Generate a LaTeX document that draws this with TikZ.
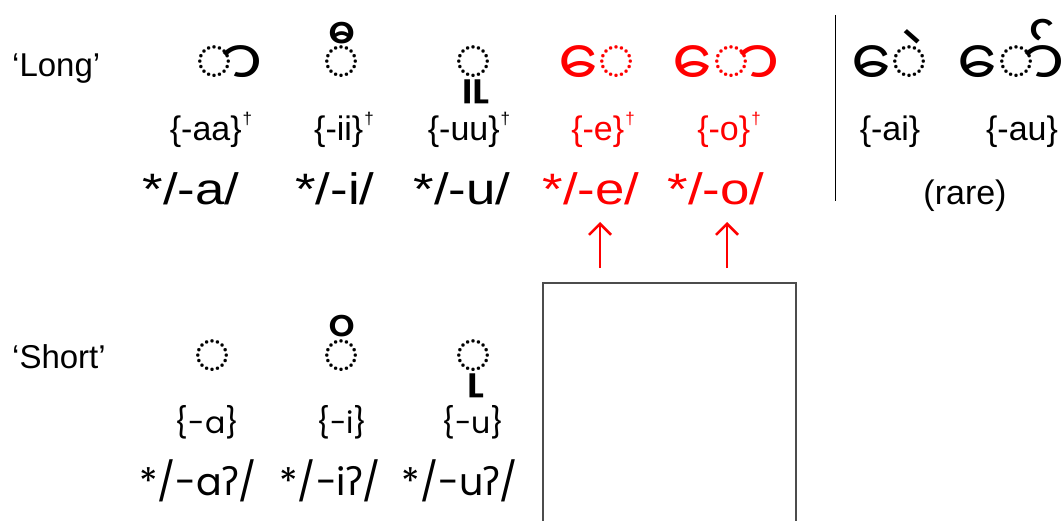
\documentclass[tikz,border=0pt]{standalone}
\usepackage{fontspec}
\setmainfont{Liberation Sans}
\newfontfamily\myfont[Script=Myanmar]{Noto Sans Myanmar UI}
\newfontfamily\shortfont{Poppins}
\newfontfamily\ipafont{Noto Sans}
\usetikzlibrary{arrows.meta}
\tikzset{
  rowlabel/.style={anchor=base west, inner sep=0pt, font=\fontsize{33}{33}\selectfont},
  glyph/.style={anchor=base, inner sep=0pt, font=\myfont\fontsize{64}{64}\selectfont},
  label/.style={anchor=base, inner sep=0pt, font=\fontsize{34}{34}\selectfont},
  big/.style={anchor=base, inner sep=0pt, font=\fontsize{44}{44}\selectfont},
  slabel/.style={anchor=base, inner sep=0pt, font=\shortfont\fontsize{30}{30}\selectfont},
  sbig/.style={anchor=base, inner sep=0pt, font=\shortfont\fontsize{38}{38}\selectfont},
  redarrow/.style={red, line width=2.5pt, -{Straight Barb[length=11pt,width=22pt]}},
  boxline/.style={draw=black!70, line width=1.5pt},
}
\newcommand{\dg}{\kern1pt\raisebox{16pt}{\fontsize{17}{17}\selectfont †}}
\newcommand{\gs}{{\ipafont ʔ}}
\begin{document}
\begin{tikzpicture}[x=1pt,y=-1pt]
\useasboundingbox (0,0) rectangle (1064,521);
% row labels
\node[rowlabel] (long) at (12,77) {‘Long’};
\node[rowlabel] (short) at (12,368) {‘Short’};
% long row glyphs
\node[glyph] (gaa) at (229,87) {◌ာ};
\node[glyph] (gii) at (342,87) {◌ီ};
\node[glyph] (guu) at (473,87) {◌ူ};
\node[glyph, red] (ge) at (597,87) {◌ေ};
\node[glyph, red] (go) at (726,87) {◌ော};
\node[glyph] (gai) at (890,87) {◌ေဲ};
\node[glyph] (gau) at (1011,87) {◌ော်};
% long row labels
\node[label] (laa) at (211,141) {\{-aa\}\dg};
\node[label] (lii) at (344,141) {\{-ii\}\dg};
\node[label] (luu) at (469,141) {\{-uu\}\dg};
\node[label, red] (le) at (603,141) {\{-e\}\dg};
\node[label, red] (lo) at (729,141) {\{-o\}\dg};
\node[label] (lai) at (890,141) {\{-ai\}};
\node[label] (lau) at (1022,141) {\{-au\}};
% big long
\node[big] (ba) at (191,205) {\scalebox{1.2}[1]{*/-a/}};
\node[big] (bi) at (335,205) {\scalebox{1.2}[1]{*/-i/}};
\node[big] (bu) at (462,205) {\scalebox{1.2}[1]{*/-u/}};
\node[big, red] (be) at (591,205) {\scalebox{1.2}[1]{*/-e/}};
\node[big, red] (bo) at (716,205) {\scalebox{1.2}[1]{*/-o/}};
\node[label] (rare) at (965,205) {(rare)};
% separator
\coordinate (septop) at (835,15);
\coordinate (sepbot) at (835,201);
\draw[line width=1pt] (septop) -- (sepbot);
% arrows
\coordinate (ea) at (600,268);
\coordinate (eb) at (600,222);
\coordinate (oa) at (727,268);
\coordinate (ob) at (727,222);
\draw[redarrow] (ea) -- (eb);
\draw[redarrow] (oa) -- (ob);
% box
\coordinate (bl) at (543,525);
\coordinate (tl) at (543,283);
\coordinate (tr) at (796,283);
\coordinate (br) at (796,525);
\draw[boxline] (bl) -- (tl) -- (tr) -- (br);
% short row glyphs
\node[glyph] (sa) at (213,380) {◌};
\node[glyph] (si) at (342,380) {◌ိ};
\node[glyph] (su) at (473,380) {◌ု};
% short labels
\node[slabel] (sla) at (207,433) {\{-a\}};
\node[slabel] (sli) at (342,433) {\{-i\}};
\node[slabel] (slu) at (473,433) {\{-u\}};
% short big
\node[sbig] (sba) at (198,495) {*/-a\gs/};
\node[sbig] (sbi) at (330,495) {*/-i\gs/};
\node[sbig] (sbu) at (460,495) {*/-u\gs/};
\end{tikzpicture}
\end{document}
